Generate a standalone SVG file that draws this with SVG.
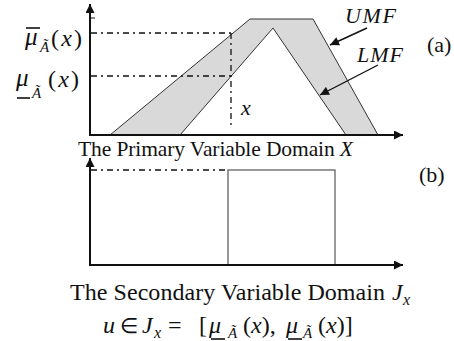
<svg xmlns="http://www.w3.org/2000/svg" width="454" height="341" viewBox="0 0 454 341">
<style>
text{font-family:"Liberation Serif","Times New Roman",serif;fill:#111}
.i{font-style:italic}
.ax{stroke:#111;stroke-width:2;fill:none}
.dd{stroke:#111;stroke-width:1.3;stroke-dasharray:6 4 2 4;fill:none}
.mf{stroke:#333;stroke-width:1}
.ln{stroke:#111;stroke-width:1.4}
.pt{stroke:#111;stroke-width:1}
.bar{stroke:#111;stroke-width:1.6}
</style>
<defs>
<marker id="ah" viewBox="0 0 10 10" refX="10" refY="5" markerWidth="10" markerHeight="9" markerUnits="userSpaceOnUse" orient="auto"><path d="M0,0 L10,5 L0,10 z" fill="#111"/></marker>
<marker id="ps" viewBox="0 0 10 10" refX="10" refY="5" markerWidth="10" markerHeight="9" markerUnits="userSpaceOnUse" orient="auto"><path d="M0,0 L10,5 L0,10 z" fill="#111"/></marker>
</defs>

<g id="panel-a">
  <g id="umf"><polygon class="mf" points="110,135 250,19 313,19 378,135" fill="#d9d9d9"/></g>
  <g id="lmf"><polygon class="mf" points="180,135 273,28 346,135" fill="#ffffff"/></g>
  <g id="guides-a">
    <line class="dd" x1="91" y1="33" x2="233" y2="33"/>
    <line class="dd" x1="91" y1="76" x2="231" y2="76"/>
    <line class="dd" x1="231" y1="33" x2="231" y2="128"/>
    <line class="pt" x1="91" y1="18" x2="95" y2="18"/>
  </g>
  <g id="axes-a">
    <line class="ax" x1="90" y1="136" x2="90" y2="4" marker-end="url(#ah)"/>
    <line class="ax" x1="89" y1="135" x2="403" y2="135" marker-end="url(#ah)"/>
  </g>
  <g id="label-upper">
    <text x="25" y="45" font-size="25" class="i">μ</text>
    <line class="bar" x1="26" y1="28" x2="40" y2="28"/>
    <text x="40" y="52" font-size="15" class="i">Ã</text>
    <text x="51" y="46" font-size="24" textLength="31" lengthAdjust="spacing">(<tspan class="i">x</tspan>)</text>
  </g>
  <g id="label-lower">
    <text x="16" y="86" font-size="25" class="i">μ</text>
    <line class="bar" x1="17" y1="98" x2="30" y2="98"/>
    <text x="32" y="98" font-size="15" class="i">Ã</text>
    <text x="48" y="87" font-size="24" textLength="31" lengthAdjust="spacing">(<tspan class="i">x</tspan>)</text>
  </g>
  <g id="label-x"><text x="241" y="115" font-size="22" class="i">x</text></g>
  <g id="label-umf"><text x="345" y="23" font-size="22" class="i" textLength="51" lengthAdjust="spacing">UMF</text></g>
  <g id="label-lmf"><text x="357" y="62" font-size="22" class="i" textLength="46" lengthAdjust="spacing">LMF</text></g>
  <g id="label-a"><text x="427" y="52" font-size="22">(a)</text></g>
  <text x="78" y="156" font-size="21.5" textLength="275" lengthAdjust="spacing">The Primary Variable Domain <tspan class="i">X</tspan></text>
</g>

<g id="connectors">
  <line class="ln" x1="367" y1="28" x2="330" y2="45" marker-end="url(#ps)"/>
  <line class="ln" x1="378" y1="65" x2="320" y2="95" marker-end="url(#ps)"/>
</g>

<g id="panel-b">
  <g id="interval"><rect x="228" y="170" width="107" height="95" fill="none" stroke="#555" stroke-width="1.2"/></g>
  <line class="dd" x1="91" y1="170" x2="228" y2="170"/>
  <g id="axes-b">
    <line class="ax" x1="90" y1="266" x2="90" y2="158" marker-end="url(#ah)"/>
    <line class="ax" x1="89" y1="265" x2="403" y2="265" marker-end="url(#ah)"/>
  </g>
  <g id="label-b"><text x="419" y="182" font-size="22">(b)</text></g>
  <text x="70" y="300" font-size="24" textLength="315" lengthAdjust="spacing">The Secondary Variable Domain</text>
  <text x="392" y="300" font-size="24" class="i">J</text>
  <text x="403" y="305" font-size="16" class="i">x</text>
  <g id="formula">
    <text y="333" font-size="24"><tspan x="103" class="i">u</tspan><tspan x="120" font-size="21">∈</tspan><tspan x="142" class="i">J</tspan><tspan x="168">=</tspan><tspan x="199">[</tspan><tspan x="209" class="i">μ</tspan><tspan x="243">(</tspan><tspan class="i">x</tspan><tspan>),</tspan><tspan x="286" class="i">μ</tspan><tspan x="318">(</tspan><tspan class="i">x</tspan><tspan>)]</tspan></text>
    <text x="154" y="338" font-size="16" class="i">x</text>
    <text x="228" y="338" font-size="15" class="i">Ã</text>
    <text x="303" y="338" font-size="15" class="i">Ã</text>
    <line class="bar" x1="211" y1="339" x2="225" y2="339"/>
    <line class="bar" x1="288" y1="339" x2="302" y2="339"/>
  </g>
</g>
</svg>
